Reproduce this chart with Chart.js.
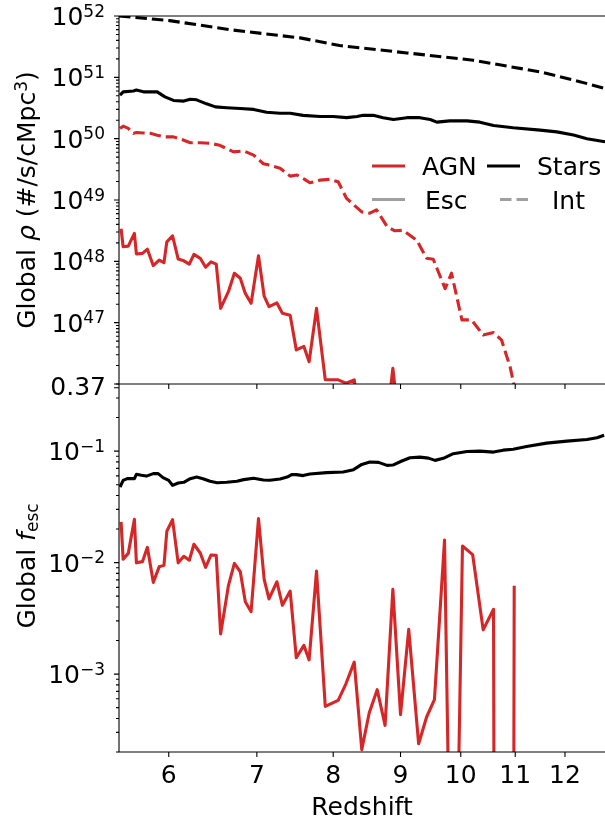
<!DOCTYPE html>
<html>
<head>
<meta charset="utf-8">
<script src="https://cdn.jsdelivr.net/npm/chart.js@4.4.1/dist/chart.umd.min.js"></script>
<style>
  html, body { margin: 0; padding: 0; background: #fff; }
  #wrap { position: relative; width: 605px; height: 821px; }
  #wrap canvas { position: absolute; left: 0; top: 0; }
</style>
</head>
<body>
<div id="wrap">
  <canvas id="fescChart" width="605" height="821"></canvas>
  <canvas id="rhoChart" width="605" height="821"></canvas>
</div>
<script>
// redshift ticks and decade labels
const zTicks = [6, 7, 8, 9, 10, 11, 12];
const rhoExps = [47, 48, 49, 50, 51, 52];
const fescExps = [-3, -2, -1];

// stars, intrinsic ionising photon density (#/s/cMpc^3)
const zStarsInt = [5.50, 6.01, 6.71, 7.55, 8.09, 9.10, 10.22, 11.48, 12.17, 12.87];
const starsInt = [1.0e52, 8.4e51, 5.9e51, 4.4e51, 3.3e51, 2.5e51, 1.9e51, 1.23e51, 9.1e50, 6.6e50];

// stars, escaping photon density
const zStarsEsc = [5.51, 5.54, 5.64, 5.67, 5.74, 5.88, 5.96, 6.05, 6.16, 6.23, 6.30, 6.41, 6.51, 6.64,
  6.80, 6.96, 7.12, 7.29, 7.42, 7.59, 7.82, 8.00, 8.19, 8.34, 8.43, 8.58, 8.73, 8.89, 9.10, 9.31,
  9.48, 9.59, 9.81, 10.11, 10.34, 10.59, 10.96, 11.49, 11.83, 12.18, 12.47, 12.87];
const starsEsc = [5.1e50, 5.8e50, 6.0e50, 6.2e50, 5.8e50, 5.8e50, 4.8e50, 4.2e50, 4.1e50, 4.4e50,
  4.3e50, 3.7e50, 3.3e50, 3.2e50, 3.1e50, 3.0e50, 2.7e50, 2.6e50, 2.6e50, 2.4e50, 2.3e50, 2.3e50,
  2.2e50, 2.3e50, 2.4e50, 2.4e50, 2.2e50, 2.05e50, 2.2e50, 2.2e50, 2.05e50, 1.86e50, 1.95e50,
  1.95e50, 1.86e50, 1.64e50, 1.51e50, 1.38e50, 1.29e50, 1.15e50, 1.0e50, 8.9e49];

// AGN, intrinsic photon density
const zAgnInt = [5.51, 5.54, 5.59, 5.64, 5.67, 5.74, 5.81, 5.88, 5.96, 6.05, 6.14, 6.23, 6.34, 6.45,
  6.56, 6.64, 6.72, 6.84, 6.96, 7.08, 7.16, 7.29, 7.42, 7.51, 7.61, 7.68, 7.82, 7.95, 8.07, 8.19,
  8.41, 8.53, 8.63, 8.79, 8.91, 9.04, 9.26, 9.42, 9.53, 9.73, 9.84, 10.02, 10.19, 10.40, 10.59,
  10.74, 10.90, 11.03];
const agnInt = [1.47e50, 1.60e50, 1.47e50, 1.22e50, 1.26e50, 1.24e50, 1.22e50, 1.14e50, 1.07e50,
  1.07e50, 9.7e49, 8.6e49, 8.6e49, 8.4e49, 7.8e49, 6.9e49, 6.1e49, 6.3e49, 5.4e49, 3.9e49, 3.7e49,
  3.3e49, 2.45e49, 2.55e49, 2.17e49, 1.91e49, 2.11e49, 2.17e49, 1.98e49, 1.06e49, 6.4e48, 6.1e48,
  6.9e48, 3.7e48, 3.15e48, 3.2e48, 2.2e48, 1.12e48, 1.08e48, 3.6e47, 6.4e47, 1.11e47, 1.11e47,
  6.3e46, 6.9e46, 5.2e46, 1.92e46, 6.0e45];

// AGN snapshots: escaping photon density and escape fraction (1e-30 = nothing escapes)
const zAgn = [5.52, 5.54, 5.59, 5.65, 5.67, 5.73, 5.78, 5.84, 5.90, 5.95, 5.98, 6.04, 6.10, 6.16,
  6.22, 6.27, 6.34, 6.40, 6.46, 6.52, 6.57, 6.66, 6.73, 6.80, 6.86, 6.93, 7.02, 7.09, 7.15, 7.25,
  7.32, 7.42, 7.50, 7.60, 7.67, 7.77, 7.89, 8.07, 8.18, 8.30, 8.41, 8.52, 8.64, 8.76, 8.88, 9.00,
  9.13, 9.29, 9.42, 9.55, 9.72, 9.87, 10.03, 10.21, 10.40, 10.59, 10.73, 10.86, 10.98];
const agnEsc = [3.4e48, 1.73e48, 1.77e48, 2.86e48, 1.32e48, 1.35e48, 1.58e48, 8.5e47, 1.05e48, 9.5e47,
  2.08e48, 2.6e48, 1.09e48, 1.02e48, 9.0e47, 1.30e48, 1.12e48, 8.0e47, 9.8e47, 9.0e47,
  1.71e47, 3.2e47, 6.4e47, 5.3e47, 3.0e47, 2.07e47, 1.23e48, 2.7e47, 1.82e47, 2.1e47,
  1.42e47, 1.32e47, 3.6e46, 4.1e46, 2.3e46, 1.71e47, 1.17e46, 1.17e46, 1.03e46, 1.17e46,
  1.3e45, 2.7e45, 4.6e45, 1.4e45, 1.8e46, 1.4e45, 6.6e45, 4.7e44, 4.7e44, 5.9e44,
  6.3e45, 1e41, 1.5e45, 1.3e45, 1.6e44, 2.6e44, 1e16, 1e16, 5.6e43];
const agnFesc = [0.0232, 0.0107, 0.0121, 0.0245, 0.00995, 0.0102, 0.0137, 0.00665, 0.00916, 0.00944,
  0.0191, 0.0243, 0.00995, 0.0114, 0.0105, 0.0146, 0.0122, 0.00906, 0.0117, 0.0116,
  0.00229, 0.0062, 0.00984, 0.00828, 0.00446, 0.00363, 0.0248, 0.00708, 0.00472, 0.00673,
  0.00414, 0.00556, 0.0014, 0.00181, 0.00134, 0.0084, 0.000513, 0.00058, 0.000818, 0.00128,
  0.00021, 0.000448, 0.000724, 0.000347, 0.00575, 0.000433, 0.00252, 0.000237, 0.000412, 0.000589,
  0.0159, 2e-7, 0.0141, 0.0118, 0.00249, 0.00381, 1e-30, 1e-30, 0.0062];

// stars escape fraction
const zStarsFesc = [5.51, 5.54, 5.58, 5.62, 5.65, 5.67, 5.72, 5.77, 5.84, 5.89, 5.94, 6.00, 6.04,
  6.10, 6.16, 6.23, 6.30, 6.37, 6.45, 6.53, 6.64, 6.76, 6.84, 6.96, 7.08, 7.16, 7.29, 7.38, 7.44,
  7.50, 7.59, 7.68, 7.91, 8.14, 8.29, 8.41, 8.53, 8.66, 8.79, 8.88, 9.02, 9.15, 9.31, 9.45, 9.56,
  9.70, 9.87, 10.11, 10.34, 10.59, 10.77, 10.96, 11.22, 11.62, 12.04, 12.47, 12.69, 12.85];
const starsFesc = [0.0476, 0.0547, 0.0566, 0.0566, 0.0566, 0.0619, 0.0607, 0.0597, 0.0628, 0.0628,
  0.0578, 0.0547, 0.0493, 0.0518, 0.0525, 0.0566, 0.0585, 0.0566, 0.0536, 0.0521, 0.0525, 0.0536,
  0.0555, 0.0570, 0.0551, 0.0547, 0.0562, 0.0585, 0.0615, 0.0615, 0.0603, 0.0624, 0.0641, 0.0649,
  0.0682, 0.0760, 0.0798, 0.0793, 0.0745, 0.0750, 0.0815, 0.0873, 0.0883, 0.0865, 0.0826, 0.0861,
  0.0948, 0.0993, 0.100, 0.098, 0.102, 0.104, 0.110, 0.118, 0.123, 0.127, 0.132, 0.139];

const FONT = '"DejaVu Sans", sans-serif';
const RED = '#d62728';
const GREY = '#a0a0a0';
const LW = 3.1;
const DASH = [11.5, 5];

function pts(xs, ys) {
  return xs.map((x, i) => ({ x: x, y: ys[i] }));
}

function line(data, color, dashed) {
  return {
    data: data,
    borderColor: color,
    borderWidth: LW,
    borderDash: dashed ? DASH : [],
    borderJoinStyle: 'round',
    pointRadius: 0,
    tension: 0,
    fill: false,
    clip: 0
  };
}

// text made of runs, for the mathtext-like labels
function runFont(r, size) {
  const s = (r.sup || r.sub) ? Math.round(size * 0.68) : size;
  return (r.italic ? 'italic ' : '') + s + 'px ' + FONT;
}
function runsWidth(ctx, runs, size) {
  let w = 0;
  for (const r of runs) {
    ctx.font = runFont(r, size);
    w += ctx.measureText(r.t).width;
  }
  return w;
}
function drawRuns(ctx, runs, x, y, size) {
  ctx.textAlign = 'left';
  ctx.textBaseline = 'alphabetic';
  for (const r of runs) {
    ctx.font = runFont(r, size);
    const dy = r.sup ? -size * 0.34 : (r.sub ? size * 0.1 : 0);
    ctx.fillText(r.t, x, y + dy);
    x += ctx.measureText(r.t).width;
  }
}
function powRuns(e) {
  return [{ t: '10' }, { t: e < 0 ? '\u2212' + (-e) : String(e), sup: true }];
}

const SIZE = 25;

// spines, log ticks and labels drawn off the chart's scales
const frame = {
  id: 'frame',
  afterDatasetsDraw(chart, args, o) {
    const { ctx, chartArea: a } = chart;
    const x = chart.scales.x, y = chart.scales.y;
    ctx.save();
    ctx.strokeStyle = '#000';
    ctx.fillStyle = '#000';
    ctx.lineWidth = 1.1;
    ctx.beginPath();
    ctx.moveTo(a.left, a.top);
    ctx.lineTo(a.left, a.bottom);
    ctx.lineTo(a.right, a.bottom);
    if (o.topSpine) {
      ctx.moveTo(a.left, a.top);
      ctx.lineTo(a.right, a.top);
    }
    ctx.stroke();

    // y ticks: decades and 2..9 minors
    ctx.beginPath();
    const k0 = Math.floor(Math.log10(y.min)), k1 = Math.ceil(Math.log10(y.max));
    for (let k = k0; k <= k1; k++) {
      for (let m = 1; m <= 9; m++) {
        const v = m * Math.pow(10, k);
        if (v < y.min * 0.999 || v > y.max * 1.001) continue;
        const py = y.getPixelForValue(v);
        ctx.moveTo(a.left - (m === 1 ? 5 : 3), py);
        ctx.lineTo(a.left, py);
      }
    }
    (o.extraY || []).forEach(v => {
      const py = y.getPixelForValue(v);
      ctx.moveTo(a.left - 5, py);
      ctx.lineTo(a.left, py);
    });
    // x ticks hang below the panel
    zTicks.forEach(z => {
      const px = x.getPixelForValue(z);
      ctx.moveTo(px, a.bottom);
      ctx.lineTo(px, a.bottom + 5);
    });
    ctx.stroke();

    // y labels
    const xr = a.left - 14;
    o.exps.forEach(e => {
      const py = y.getPixelForValue(Math.pow(10, e));
      const runs = powRuns(e);
      drawRuns(ctx, runs, xr - runsWidth(ctx, runs, SIZE), py + 9, SIZE);
    });
    (o.extraY || []).forEach(v => {
      const py = y.getPixelForValue(v);
      ctx.font = SIZE + 'px ' + FONT;
      ctx.textAlign = 'right';
      ctx.textBaseline = 'middle';
      ctx.fillText(String(v), xr + 1, py + 1);
    });

    // rotated axis title
    const w = runsWidth(ctx, o.title, SIZE);
    ctx.save();
    ctx.translate(35, o.titleY);
    ctx.rotate(-Math.PI / 2);
    drawRuns(ctx, o.title, -w / 2, 0, SIZE);
    ctx.restore();

    if (o.xLabels) {
      ctx.font = SIZE + 'px ' + FONT;
      ctx.textAlign = 'center';
      ctx.textBaseline = 'alphabetic';
      zTicks.forEach(z => ctx.fillText(String(z), x.getPixelForValue(z), a.bottom + 31));
      ctx.fillText('Redshift', (a.left + a.right) / 2, a.bottom + 63);
    }

    (o.legend || []).forEach(it => {
      ctx.beginPath();
      ctx.strokeStyle = it.color;
      ctx.lineWidth = LW;
      ctx.setLineDash(it.dashed ? DASH : []);
      ctx.moveTo(it.x0, it.y);
      ctx.lineTo(it.x0 + 33, it.y);
      ctx.stroke();
      ctx.setLineDash([]);
      ctx.font = SIZE + 'px ' + FONT;
      ctx.textAlign = 'left';
      ctx.textBaseline = 'alphabetic';
      ctx.fillStyle = '#000';
      ctx.fillText(it.label, it.tx, it.y + 9);
    });
    ctx.restore();
  }
};

function baseOptions(pad, yMin, yMax, frameOpts) {
  return {
    responsive: false,
    animation: false,
    devicePixelRatio: 1,
    layout: { padding: pad },
    plugins: { legend: { display: false }, tooltip: { enabled: false }, frame: frameOpts },
    scales: {
      x: { type: 'logarithmic', min: 5.5, max: 12.87, display: false },
      y: { type: 'logarithmic', min: yMin, max: yMax, display: false }
    }
  };
}

new Chart(document.getElementById('fescChart'), {
  type: 'line',
  data: {
    datasets: [
      line(pts(zStarsFesc, starsFesc), '#000', false),
      line(pts(zAgn, agnFesc), RED, false)
    ]
  },
  options: baseOptions({ left: 119, right: 0, top: 384, bottom: 69 }, 2e-4, 0.4, {
    exps: fescExps,
    extraY: [0.37],
    xLabels: true,
    titleY: 566,
    title: [{ t: 'Global ' }, { t: 'f', italic: true }, { t: 'esc', sub: true }]
  }),
  plugins: [frame]
});

new Chart(document.getElementById('rhoChart'), {
  type: 'line',
  data: {
    datasets: [
      line(pts(zStarsInt, starsInt), '#000', true),
      line(pts(zStarsEsc, starsEsc), '#000', false),
      line(pts(zAgnInt, agnInt), RED, true),
      line(pts(zAgn, agnEsc), RED, false)
    ]
  },
  options: baseOptions({ left: 119, right: 0, top: 16, bottom: 437 }, 1e46, 1e52, {
    exps: rhoExps,
    topSpine: true,
    titleY: 200,
    title: [{ t: 'Global ' }, { t: '\u03c1', italic: true }, { t: ' (#/s/cMpc' }, { t: '3', sup: true }, { t: ')' }],
    legend: [
      { label: 'AGN', color: RED, x0: 372, tx: 422, y: 166 },
      { label: 'Stars', color: '#000', x0: 487, tx: 537, y: 166 },
      { label: 'Esc', color: GREY, x0: 372, tx: 425, y: 199.5 },
      { label: 'Int', color: GREY, dashed: true, x0: 500, tx: 552, y: 199.5 }
    ]
  }),
  plugins: [frame]
});
</script>
</body>
</html>
